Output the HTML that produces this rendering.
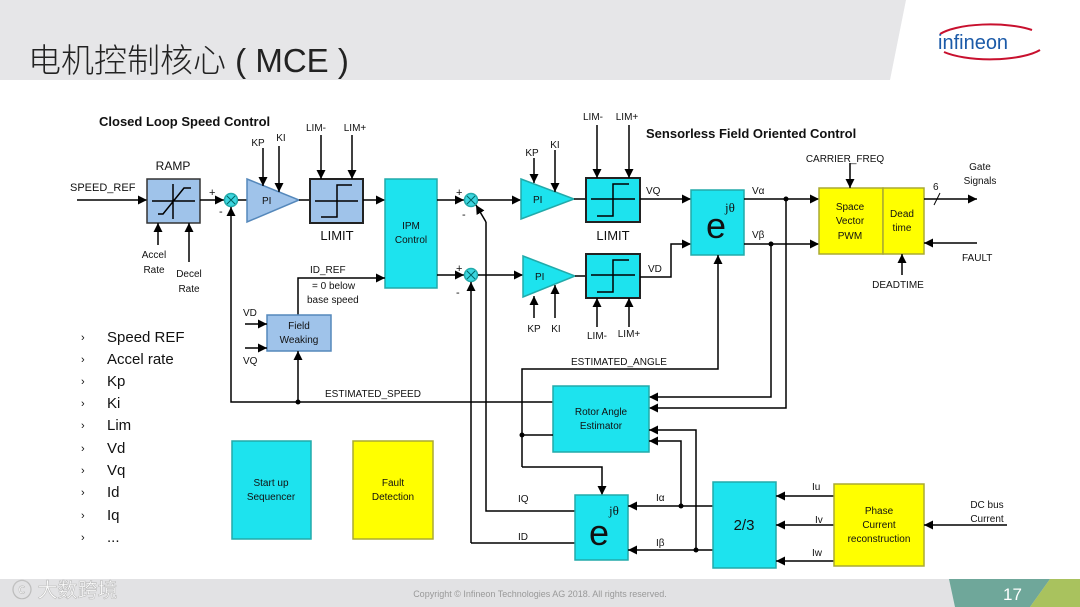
<!DOCTYPE html>
<html><head><meta charset="utf-8"><style>
html,body{margin:0;padding:0;background:#fff}
svg{display:block}
text{font-family:"Liberation Sans",Arial,sans-serif;fill:#111}
</style></head><body>
<svg width="1080" height="607" viewBox="0 0 1080 607" xmlns="http://www.w3.org/2000/svg">
<defs>
<marker id="a" viewBox="0 0 10 10" refX="10" refY="5" markerWidth="9" markerHeight="9" markerUnits="userSpaceOnUse" orient="auto"><path d="M0,0 L10,5 L0,10 z" fill="#000"/></marker>
</defs>
<!-- header -->
<polygon points="0,0 906,0 890,80 0,80" fill="#e6e6e8"/>
<text x="28" y="72" font-size="33" style="font-family:'Liberation Sans','Noto Sans CJK SC',sans-serif;fill:#222;font-weight:300">电机控制核心 ( MCE )</text>
<path d="M1032,30 A56,17 0 0 0 940,34 M944,52 A56,17 0 0 0 1040,50" fill="none" stroke="#c8102e" stroke-width="2"/>
<text x="938" y="49" font-size="20" style="fill:#1b5aa8">infineon</text>
<!-- footer -->
<rect x="0" y="579" width="1080" height="28" fill="#e2e2e4"/>
<polygon points="949,579 1050,579 1030,607 955,607" fill="#6fa79a"/>
<polygon points="1050,579 1080,579 1080,607 1030,607" fill="#a9c25e"/>
<text x="1003" y="600" font-size="17" style="fill:#fff">17</text>
<text x="540" y="597" font-size="9" text-anchor="middle" style="fill:#999">Copyright © Infineon Technologies AG 2018. All rights reserved.</text>
<text x="12" y="597" font-size="20" style="font-family:'Liberation Sans','Noto Sans CJK SC',sans-serif;fill:#fff;stroke:#bbb;stroke-width:0.6">ⓒ 大数跨境</text>

<g font-size="11" stroke-width="1.5">
<text x="99" y="126" font-size="13" font-weight="bold">Closed Loop Speed Control</text>
<text x="646" y="138" font-size="13" font-weight="bold">Sensorless Field Oriented Control</text>

<text x="70" y="191">SPEED_REF</text>
<line x1="77" y1="200" x2="147" y2="200" stroke="#000" marker-end="url(#a)"/>
<text x="173" y="170" font-size="12" text-anchor="middle">RAMP</text>
<rect x="147" y="179" width="53" height="44" fill="#9fc3ea" stroke="#333"/>
<path d="M152,201 H195 M173,184 V219 M158,214 H163 L184,188 H191" stroke="#000" fill="none" stroke-width="1.5"/>
<line x1="158" y1="245" x2="158" y2="223" stroke="#000" marker-end="url(#a)"/>
<line x1="189" y1="262" x2="189" y2="223" stroke="#000" marker-end="url(#a)"/>
<text x="154" y="258" font-size="10" text-anchor="middle">Accel</text>
<text x="154" y="273" font-size="10" text-anchor="middle">Rate</text>
<text x="189" y="277" font-size="10" text-anchor="middle">Decel</text>
<text x="189" y="292" font-size="10" text-anchor="middle">Rate</text>
<line x1="200" y1="200" x2="224" y2="200" stroke="#000" marker-end="url(#a)"/>
<text x="209" y="196" font-size="11">+</text><text x="219" y="215" font-size="11">-</text>
<circle cx="231" cy="200" r="6.5" fill="#3cd6e0" stroke="#2aa"/>
<path d="M227,196 L235,204 M235,196 L227,204" stroke="#066" stroke-width="1"/>
<line x1="238" y1="200" x2="247" y2="200" stroke="#000"/>
<polygon points="247,179 299,200 247,222" fill="#9fc3ea" stroke="#5588bb"/>
<text x="262" y="204" font-size="10">PI</text>
<line x1="263" y1="148" x2="263" y2="186" stroke="#000" marker-end="url(#a)"/>
<line x1="279" y1="146" x2="279" y2="192" stroke="#000" marker-end="url(#a)"/>
<text x="258" y="146" font-size="10" text-anchor="middle">KP</text>
<text x="281" y="141" font-size="10" text-anchor="middle">KI</text>
<line x1="299" y1="200" x2="310" y2="200" stroke="#000"/>
<rect x="310" y="179" width="53" height="44" fill="#9fc3ea" stroke="#222" stroke-width="2"/>
<path d="M315,201 H358 M321,217 H337 V185 H352" stroke="#000" fill="none"/>
<line x1="321" y1="135" x2="321" y2="179" stroke="#000" marker-end="url(#a)"/>
<line x1="352" y1="135" x2="352" y2="179" stroke="#000" marker-end="url(#a)"/>
<text x="316" y="131" font-size="10" text-anchor="middle">LIM-</text>
<text x="355" y="131" font-size="10" text-anchor="middle">LIM+</text>
<text x="337" y="240" font-size="13" text-anchor="middle">LIMIT</text>
<line x1="363" y1="200" x2="385" y2="200" stroke="#000" marker-end="url(#a)"/>
<rect x="385" y="179" width="52" height="109" fill="#1de3ee" stroke="#2aa"/>
<text x="411" y="229" font-size="10" text-anchor="middle">IPM</text>
<text x="411" y="243" font-size="10" text-anchor="middle">Control</text>
<polyline points="298,315 298,278 385,278" fill="none" stroke="#000" marker-end="url(#a)"/>
<text x="310" y="273" font-size="10">ID_REF</text>
<text x="312" y="289" font-size="10">= 0 below</text>
<text x="307" y="303" font-size="10">base speed</text>
<rect x="267" y="315" width="64" height="36" fill="#9fc3ea" stroke="#5588bb"/>
<text x="299" y="329" font-size="10" text-anchor="middle">Field</text>
<text x="299" y="343" font-size="10" text-anchor="middle">Weaking</text>
<text x="243" y="316" font-size="10">VD</text><text x="243" y="364" font-size="10">VQ</text>
<line x1="245" y1="324" x2="267" y2="324" stroke="#000" marker-end="url(#a)"/>
<line x1="245" y1="348" x2="267" y2="348" stroke="#000" marker-end="url(#a)"/>
<line x1="298" y1="402" x2="298" y2="351" stroke="#000" marker-end="url(#a)"/>
<circle cx="298" cy="402" r="2.5"/>
<polyline points="553,402 231,402 231,207" fill="none" stroke="#000" marker-end="url(#a)"/>
<text x="325" y="397" font-size="10">ESTIMATED_SPEED</text>

<line x1="437" y1="200" x2="464" y2="200" stroke="#000" marker-end="url(#a)"/>
<line x1="437" y1="275" x2="464" y2="275" stroke="#000" marker-end="url(#a)"/>
<text x="456" y="196" font-size="11">+</text><text x="462" y="218" font-size="11">-</text>
<text x="456" y="272" font-size="11">+</text><text x="456" y="296" font-size="11">-</text>
<circle cx="471" cy="200" r="6.5" fill="#3cd6e0" stroke="#2aa"/>
<path d="M467,196 L475,204 M475,196 L467,204" stroke="#066" stroke-width="1"/>
<circle cx="471" cy="275" r="6.5" fill="#3cd6e0" stroke="#2aa"/>
<path d="M467,271 L475,279 M475,271 L467,279" stroke="#066" stroke-width="1"/>
<line x1="478" y1="200" x2="521" y2="200" stroke="#000" marker-end="url(#a)"/>
<line x1="478" y1="275" x2="523" y2="275" stroke="#000" marker-end="url(#a)"/>
<polygon points="521,179 574,199 521,219" fill="#1de3ee" stroke="#2aa"/>
<polygon points="523,256 575,276 523,297" fill="#1de3ee" stroke="#2aa"/>
<text x="533" y="203" font-size="10">PI</text><text x="535" y="280" font-size="10">PI</text>
<line x1="534" y1="158" x2="534" y2="183" stroke="#000" marker-end="url(#a)"/>
<line x1="555" y1="150" x2="555" y2="192" stroke="#000" marker-end="url(#a)"/>
<text x="532" y="156" font-size="10" text-anchor="middle">KP</text><text x="555" y="148" font-size="10" text-anchor="middle">KI</text>
<line x1="534" y1="318" x2="534" y2="296" stroke="#000" marker-end="url(#a)"/>
<line x1="555" y1="318" x2="555" y2="285" stroke="#000" marker-end="url(#a)"/>
<text x="534" y="332" font-size="10" text-anchor="middle">KP</text><text x="556" y="332" font-size="10" text-anchor="middle">KI</text>
<line x1="574" y1="199" x2="586" y2="199" stroke="#000"/>
<line x1="575" y1="276" x2="586" y2="276" stroke="#000"/>
<rect x="586" y="178" width="54" height="44" fill="#1de3ee" stroke="#222" stroke-width="2"/>
<path d="M591,199 H635 M597,216 H613 V184 H629" stroke="#000" fill="none"/>
<rect x="586" y="254" width="54" height="44" fill="#1de3ee" stroke="#222" stroke-width="2"/>
<path d="M591,275 H635 M597,292 H613 V260 H629" stroke="#000" fill="none"/>
<line x1="597" y1="125" x2="597" y2="178" stroke="#000" marker-end="url(#a)"/>
<line x1="629" y1="125" x2="629" y2="178" stroke="#000" marker-end="url(#a)"/>
<text x="593" y="120" font-size="10" text-anchor="middle">LIM-</text><text x="627" y="120" font-size="10" text-anchor="middle">LIM+</text>
<line x1="597" y1="327" x2="597" y2="298" stroke="#000" marker-end="url(#a)"/>
<line x1="629" y1="327" x2="629" y2="298" stroke="#000" marker-end="url(#a)"/>
<text x="597" y="339" font-size="10" text-anchor="middle">LIM-</text><text x="629" y="337" font-size="10" text-anchor="middle">LIM+</text>
<text x="613" y="240" font-size="13" text-anchor="middle">LIMIT</text>
<line x1="640" y1="199" x2="691" y2="199" stroke="#000" marker-end="url(#a)"/>
<text x="646" y="194" font-size="10">VQ</text>
<polyline points="640,277 671,277 671,244 691,244" fill="none" stroke="#000" marker-end="url(#a)"/>
<text x="648" y="272" font-size="10">VD</text>
<rect x="691" y="190" width="53" height="65" fill="#1de3ee" stroke="#2aa"/>
<text x="706" y="238" font-size="36">e</text>
<text x="725" y="212" font-size="13" style="font-family:'Liberation Serif',serif">jθ</text>
<line x1="744" y1="199" x2="819" y2="199" stroke="#000" marker-end="url(#a)"/>
<line x1="744" y1="244" x2="819" y2="244" stroke="#000" marker-end="url(#a)"/>
<text x="752" y="194" font-size="10">Vα</text><text x="752" y="238" font-size="10">Vβ</text>
<circle cx="786" cy="199" r="2.5"/><circle cx="771" cy="244" r="2.5"/>
<rect x="819" y="188" width="64" height="66" fill="#ffff00" stroke="#aa3"/>
<rect x="883" y="188" width="41" height="66" fill="#ffff00" stroke="#aa3"/>
<text x="850" y="210" font-size="10" text-anchor="middle">Space</text>
<text x="850" y="224" font-size="10" text-anchor="middle">Vector</text>
<text x="850" y="239" font-size="10" text-anchor="middle">PWM</text>
<text x="902" y="217" font-size="10" text-anchor="middle">Dead</text>
<text x="902" y="231" font-size="10" text-anchor="middle">time</text>
<text x="845" y="162" font-size="10" text-anchor="middle">CARRIER_FREQ</text>
<line x1="850" y1="163" x2="850" y2="188" stroke="#000" marker-end="url(#a)"/>
<line x1="924" y1="199" x2="977" y2="199" stroke="#000" marker-end="url(#a)"/>
<line x1="934" y1="205" x2="940" y2="193" stroke="#000" stroke-width="1"/>
<text x="933" y="190" font-size="10">6</text>
<text x="980" y="170" font-size="10" text-anchor="middle">Gate</text>
<text x="980" y="184" font-size="10" text-anchor="middle">Signals</text>
<line x1="977" y1="243" x2="924" y2="243" stroke="#000" marker-end="url(#a)"/>
<text x="962" y="261" font-size="10">FAULT</text>
<line x1="902" y1="275" x2="902" y2="254" stroke="#000" marker-end="url(#a)"/>
<text x="898" y="288" font-size="10" text-anchor="middle">DEADTIME</text>

<polyline points="522,467 522,369 718,369 718,255" fill="none" stroke="#000" marker-end="url(#a)"/>
<text x="571" y="365" font-size="10">ESTIMATED_ANGLE</text>
<polyline points="771,244 771,397 649,397" fill="none" stroke="#000" marker-end="url(#a)"/>
<polyline points="786,199 786,408 649,408" fill="none" stroke="#000" marker-end="url(#a)"/>
<rect x="553" y="386" width="96" height="66" fill="#1de3ee" stroke="#2aa"/>
<text x="601" y="415" font-size="10" text-anchor="middle">Rotor Angle</text>
<text x="601" y="429" font-size="10" text-anchor="middle">Estimator</text>
<line x1="522" y1="435" x2="553" y2="435" stroke="#000"/><circle cx="522" cy="435" r="2.5"/>
<polyline points="522,467 602,467 602,495" fill="none" stroke="#000" marker-end="url(#a)"/>
<polyline points="486,222 486,511 575,511" fill="none" stroke="#000"/>
<line x1="486" y1="222" x2="476" y2="205" stroke="#000" marker-end="url(#a)"/>
<polyline points="471,543 471,282" fill="none" stroke="#000" marker-end="url(#a)"/>
<line x1="471" y1="543" x2="575" y2="543" stroke="#000"/>
<text x="518" y="502" font-size="10">IQ</text><text x="518" y="540" font-size="10">ID</text>
<rect x="575" y="495" width="53" height="65" fill="#1de3ee" stroke="#2aa"/>
<text x="589" y="545" font-size="36">e</text>
<text x="609" y="515" font-size="13" style="font-family:'Liberation Serif',serif">jθ</text>
<line x1="713" y1="506" x2="628" y2="506" stroke="#000" marker-end="url(#a)"/>
<line x1="713" y1="550" x2="628" y2="550" stroke="#000" marker-end="url(#a)"/>
<text x="656" y="501" font-size="10">Iα</text><text x="656" y="546" font-size="10">Iβ</text>
<circle cx="681" cy="506" r="2.5"/><circle cx="696" cy="550" r="2.5"/>
<polyline points="681,506 681,441 649,441" fill="none" stroke="#000" marker-end="url(#a)"/>
<polyline points="696,550 696,430 649,430" fill="none" stroke="#000" marker-end="url(#a)"/>
<rect x="713" y="482" width="63" height="86" fill="#1de3ee" stroke="#2aa"/>
<text x="744" y="530" font-size="15" text-anchor="middle">2/3</text>
<line x1="834" y1="496" x2="776" y2="496" stroke="#000" marker-end="url(#a)"/>
<line x1="834" y1="525" x2="776" y2="525" stroke="#000" marker-end="url(#a)"/>
<line x1="834" y1="561" x2="776" y2="561" stroke="#000" marker-end="url(#a)"/>
<text x="812" y="490" font-size="10">Iu</text><text x="815" y="523" font-size="10">Iv</text><text x="812" y="556" font-size="10">Iw</text>
<rect x="834" y="484" width="90" height="82" fill="#ffff00" stroke="#aa3"/>
<text x="879" y="514" font-size="10" text-anchor="middle">Phase</text>
<text x="879" y="528" font-size="10" text-anchor="middle">Current</text>
<text x="879" y="542" font-size="10" text-anchor="middle">reconstruction</text>
<line x1="1007" y1="525" x2="924" y2="525" stroke="#000" marker-end="url(#a)"/>
<text x="987" y="508" font-size="10" text-anchor="middle">DC bus</text>
<text x="987" y="522" font-size="10" text-anchor="middle">Current</text>

<rect x="232" y="441" width="79" height="98" fill="#1de3ee" stroke="#2aa"/>
<text x="271" y="486" font-size="10" text-anchor="middle">Start up</text>
<text x="271" y="500" font-size="10" text-anchor="middle">Sequencer</text>
<rect x="353" y="441" width="80" height="98" fill="#ffff00" stroke="#aa3"/>
<text x="393" y="486" font-size="10" text-anchor="middle">Fault</text>
<text x="393" y="500" font-size="10" text-anchor="middle">Detection</text>
</g>

<g font-size="15">
<g style="fill:#a04060" font-size="11">
<text x="81" y="341">›</text><text x="81" y="363">›</text><text x="81" y="385">›</text><text x="81" y="407">›</text><text x="81" y="429">›</text><text x="81" y="452">›</text><text x="81" y="474">›</text><text x="81" y="496">›</text><text x="81" y="519">›</text><text x="81" y="541">›</text>
</g>
<text x="107" y="342">Speed REF</text><text x="107" y="364">Accel rate</text><text x="107" y="386">Kp</text><text x="107" y="408">Ki</text><text x="107" y="430">Lim</text><text x="107" y="453">Vd</text><text x="107" y="475">Vq</text><text x="107" y="497">Id</text><text x="107" y="520">Iq</text><text x="107" y="542">...</text>
</g>
</svg>
</body></html>
